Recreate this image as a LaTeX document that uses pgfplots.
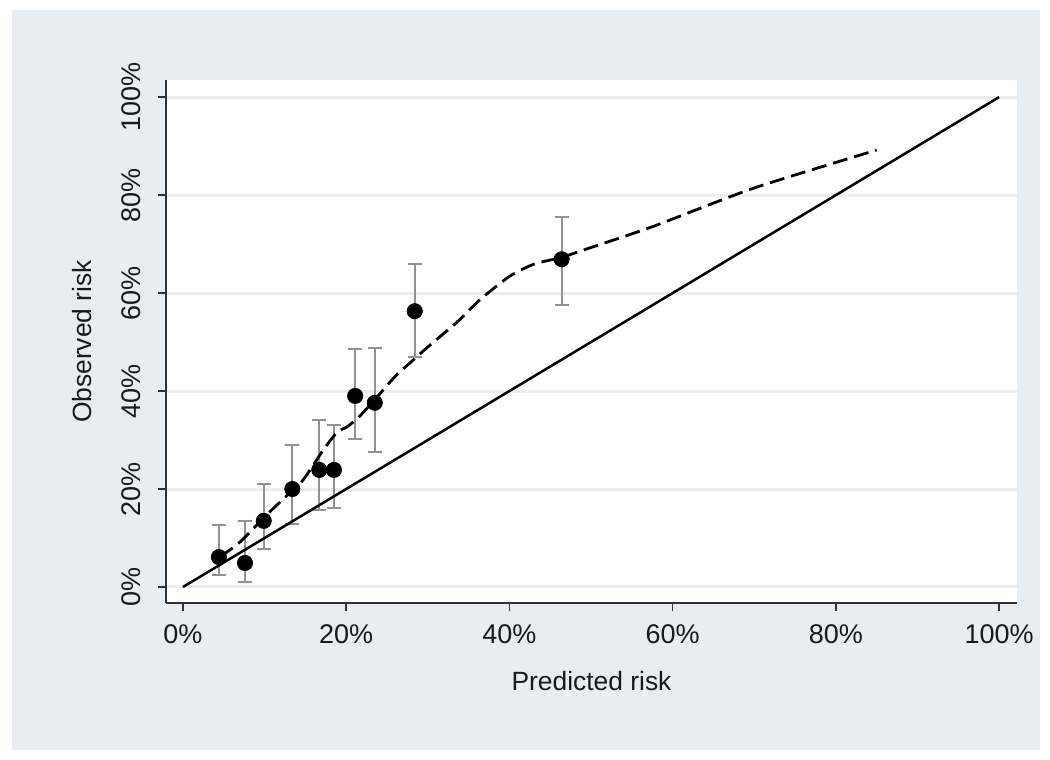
\documentclass[border=0pt]{standalone}
\usepackage{pgfplots}
\usepackage{pgfplotstable}
\pgfplotsset{compat=1.18}
\usepackage{fontspec}
\setmainfont{Liberation Sans}
\definecolor{bgc}{RGB}{232,237,241}
\definecolor{errc}{RGB}{145,145,145}
\pgfplotstableread{
x y ep em
4.4 6.1 6.6 3.7
7.6 4.9 8.6 3.9
9.9 13.5 7.5 5.7
13.4 20.0 9.0 7.1
16.7 23.9 10.1 8.2
18.5 23.9 9.1 7.8
21.1 39.0 9.6 8.8
23.5 37.6 11.2 10.0
28.4 56.3 9.6 9.4
46.4 66.9 8.6 9.3
}\pts
\pgfplotstableread{
x y
4.6 6.2
7.0 9.2
10.0 14.3
12.5 18.3
14.7 21.8
17.2 28.0
18.9 31.6
20.1 32.7
21.5 34.6
23.8 38.8
26.0 43.0
28.2 46.3
30.0 49.0
33.6 54.1
36.5 58.8
40.0 63.4
43.0 65.9
46.4 67.3
50.0 69.3
57.6 73.6
69.9 81.4
85.0 89.2
}\smooth
\begin{document}
\begin{tikzpicture}
\useasboundingbox (-83bp,-78.5bp) rectangle (442bp,301.5bp);
\fill[white] (-83bp,-78.5bp) rectangle (442bp,301.5bp);
\fill[bgc] (-77bp,-73.5bp) rectangle (437bp,296.5bp);
\begin{axis}[
  scale only axis, width=425.5bp, height=261.5bp,
  at={(0,0)}, anchor=south west,
  xmin=-2.08, xmax=102.2, ymin=-3.27, ymax=103.5,
  axis x line*=bottom, axis y line*=left,
  axis line style={-, line width=1bp, color=black!80},
  axis background/.style={fill=white},
  xtick={0,20,...,100}, ytick={0,20,...,100},
  tick align=outside, major tick length=4bp,
  tick style={line width=0.8bp, color=black!80},
  xticklabel={\pgfmathprintnumber{\tick}\%},
  yticklabel={\pgfmathprintnumber{\tick}\%},
  /pgf/number format/assume math mode=true,
  ticklabel style={font=\fontsize{13.5bp}{16bp}\selectfont, text=black!90},
  yticklabel style={rotate=90, anchor=south},
  xticklabel shift=3.5bp, yticklabel shift=5bp,
  ymajorgrids, grid style={line width=1.5bp, color=black!7},
  xlabel={Predicted risk}, ylabel={Observed risk},
  label style={font=\fontsize{13.2bp}{15bp}\selectfont, text=black!90},
  xlabel style={at={(axis description cs:0.5,-0.15)}, anchor=center},
  ylabel style={at={(axis description cs:-0.0987,0.5)}, anchor=center},
]
\addplot[only marks, mark=none,
  error bars/.cd, y dir=both, y explicit,
  error bar style={line width=1bp, color=errc},
  error mark options={line width=1bp, color=errc, mark size=3.5bp, rotate=90}]
  table[x=x, y=y, y error plus=ep, y error minus=em] {\pts};
\addplot[black, line width=1.25bp] coordinates {(0,0) (100,100)};
\addplot[black, line width=1.4bp, smooth, tension=0.4, dash pattern=on 7.5bp off 3.5bp] table[x=x, y=y] {\smooth};
\addplot[only marks, mark=*, mark size=3.8bp, black] table[x=x, y=y] {\pts};
\end{axis}
\end{tikzpicture}
\end{document}
